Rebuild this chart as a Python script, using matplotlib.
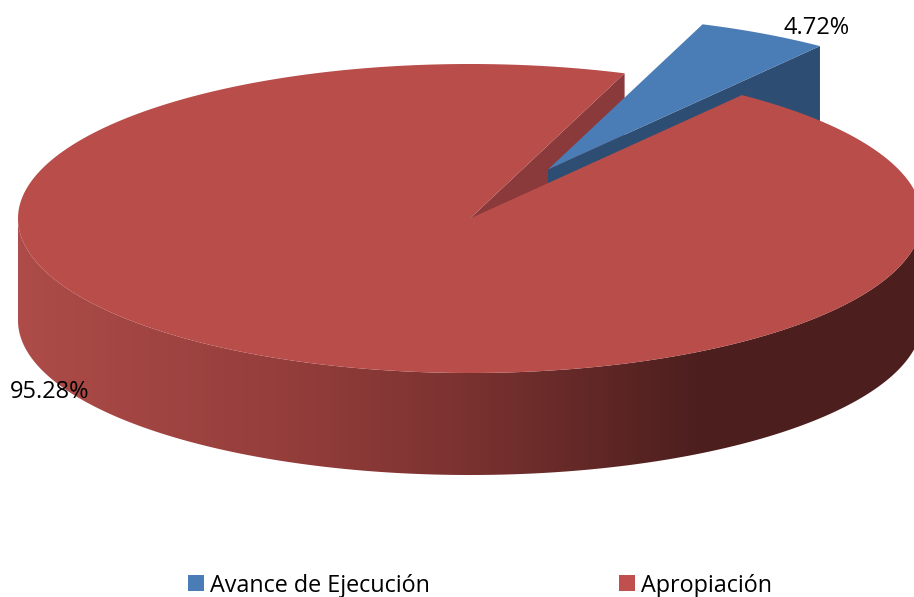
import numpy as np
import matplotlib
matplotlib.use('Agg')
import matplotlib.pyplot as plt
from matplotlib.colors import LinearSegmentedColormap
from matplotlib.patches import Patch, Polygon

categories = ['Avance de Ejecución', 'Apropiación']
shares = [4.72, 95.28]
share_labels = ['4.72%', '95.28%']

# pie geometry, in pixels of the picture
cx, cy = 470, 218.5
rx, ry = 452, 154.5
depth = 102
explode = (78, -49)
start_angle = 70

top_red = '#B94D4A'
top_blue = '#4A7CB5'
dark_blue = '#2E4D72'
wall_red = '#8A3A3A'
side_cmap = LinearSegmentedColormap.from_list(
    'side', [(0, '#AD4C48'), (0.41, '#933D3B'), (0.66, '#7A3230'), (1, '#4C1F1E')])

plt.rcParams['font.family'] = ['Open Sans', 'DejaVu Sans']


def rim(a0, a1, dx=0, dy=0, n=300):
    t = np.radians(np.linspace(a0, a1, n))
    return np.column_stack([cx + dx + rx * np.cos(t), cy + dy - ry * np.sin(t)])


fig = plt.figure(figsize=(9.14, 5.97), dpi=100)
ax = fig.add_axes([0, 0, 1, 1])
ax.axis('off')

blue_sweep = 360 * shares[0] / sum(shares)
blue_start, blue_end = start_angle, start_angle - blue_sweep
centre = np.array([[cx, cy]])
down = np.array([0, depth])

# cut wall of the red slice, seen through the gap
edge = rim(start_angle, start_angle, n=1)
wall = np.vstack([centre, edge, edge + down, centre + down])
ax.add_patch(Polygon(wall, fc=wall_red, ec='none', zorder=1))

# exploded blue slice
blue_centre = centre + explode
blue_rim = rim(blue_start, blue_end, *explode)
blue_wall = np.vstack([blue_centre, blue_rim[-1:], blue_rim[-1:] + down, blue_centre + down])
ax.add_patch(Polygon(blue_wall, fc=dark_blue, ec='none', zorder=2))
ax.add_patch(Polygon(np.vstack([blue_centre, blue_rim]), fc=top_blue, ec='none', zorder=3))

# outer side of the red slice, shaded from left to right
side_x = np.clip((np.arange(914) - 18) / 682, 0, 1)
side = ax.imshow(side_x[np.newaxis, :], cmap=side_cmap, vmin=0, vmax=1, aspect='auto',
                 extent=(0, 914, 597, 0), zorder=4)
upper = rim(180, 360)
side_shape = Polygon(np.vstack([upper, upper[::-1] + down]), fc='none', ec='none',
                     transform=ax.transData)
side.set_clip_path(side_shape)

# red top
red_rim = rim(blue_end, blue_end - 360 + blue_sweep, n=900)
ax.add_patch(Polygon(np.vstack([centre, red_rim]), fc=top_red, ec='none', zorder=5))

ax.set_xlim(0, 914)
ax.set_ylim(597, 0)

ax.text(784, 28, share_labels[0], fontsize=17, color='black', va='center', ha='left', zorder=6)
ax.text(10, 392, share_labels[1], fontsize=17, color='black', va='center', ha='left', zorder=6)

handles = [Patch(fc=top_blue, ec='none'), Patch(fc='#C0504D', ec='none')]
ax.legend(handles, categories, ncols=2, loc='center left', bbox_to_anchor=(188 / 914, 1 - 585.5 / 597),
          frameon=False, fontsize=16.8, handlelength=0.69, handleheight=0.69,
          handletextpad=0.26, columnspacing=8.1, borderpad=0, borderaxespad=0)

fig.savefig('out.png', dpi=100)
